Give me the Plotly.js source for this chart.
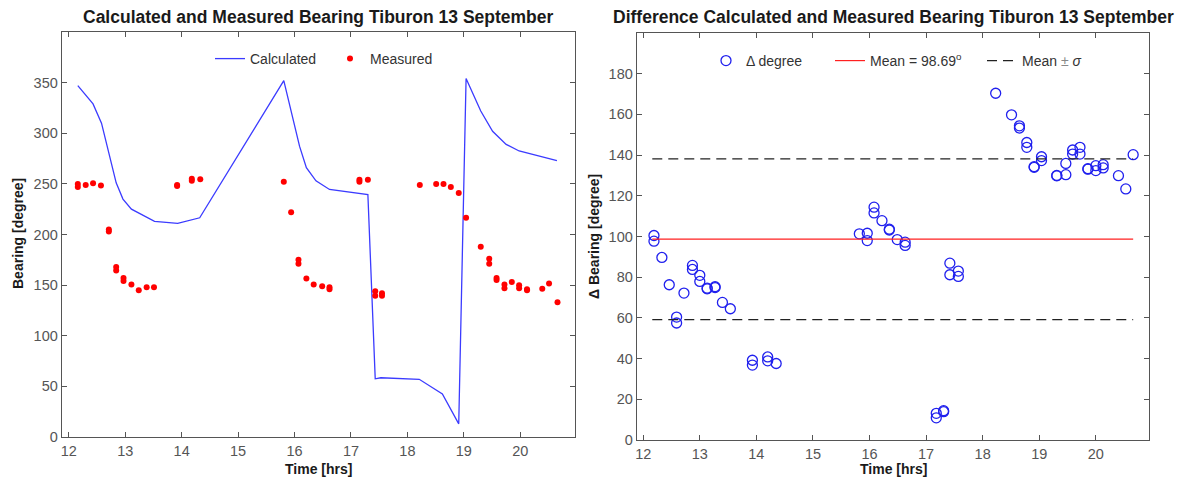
<!DOCTYPE html>
<html>
<head>
<meta charset="utf-8">
<script src="https://cdn.plot.ly/plotly-3.0.1.min.js"></script>
<style>
  html, body { margin: 0; padding: 0; background: #fff; }
  #chart { width: 1180px; height: 492px; }
</style>
</head>
<body>
<div id="chart"></div>
<script>
// Calculated bearing along the track [hrs, degree]
const calcTime = [12.16, 12.43, 12.58, 12.84, 12.96, 13.11, 13.52, 13.93, 14.32, 15.81,
                  16.09, 16.21, 16.38, 16.62, 17.30, 17.43, 17.53, 18.21, 18.62, 18.91,
                  19.04, 19.30, 19.51, 19.75, 19.98, 20.65];
const calcBearing = [347, 329, 310, 251, 235, 225, 213, 211, 216.5, 352,
                     287, 266, 253, 244.5, 239.5, 57.5, 58.5, 57, 42.5, 13,
                     354, 322, 302, 289, 282.5, 273];

// Measured bearing [hrs, degree]
const measTime = [12.16, 12.16, 12.30, 12.43, 12.57, 12.71, 12.71, 12.84, 12.84, 12.97,
                  12.97, 13.11, 13.24, 13.38, 13.51, 13.92, 13.92, 14.18, 14.18, 14.33,
                  15.81, 15.94, 16.07, 16.07, 16.21, 16.34, 16.49, 16.62, 16.62, 17.15,
                  17.15, 17.30, 17.43, 17.43, 17.55, 17.55, 18.22, 18.51, 18.64, 18.77,
                  18.91, 19.04, 19.30, 19.45, 19.45, 19.58, 19.58, 19.72, 19.72, 19.85,
                  19.98, 19.98, 20.12, 20.12, 20.39, 20.51, 20.66];
const measBearing = [250, 247, 249, 250.5, 248.5, 205, 203, 168, 164.5, 157,
                     154, 150.5, 145, 148, 148, 249, 248, 255, 253, 254.5,
                     252, 222, 175, 171, 156.5, 150.5, 149, 148, 146, 254,
                     252, 254, 144, 139.5, 142, 139.5, 249, 250, 250, 247,
                     241, 216.5, 188, 176, 171, 157, 155, 150.5, 147, 153,
                     150, 147, 146, 145, 146.5, 151.5, 133];

// Difference between calculated and measured bearing [hrs, degree]
const diffTime = [12.19, 12.19, 12.33, 12.46, 12.59, 12.59, 12.72, 12.87, 12.87, 13.00,
                  13.00, 13.13, 13.13, 13.27, 13.27, 13.40, 13.54, 13.93, 13.93, 14.20,
                  14.20, 14.35, 15.82, 15.96, 15.96, 16.08, 16.08, 16.22, 16.35, 16.35,
                  16.49, 16.63, 16.63, 17.18, 17.18, 17.31, 17.31, 17.42, 17.42, 17.57,
                  17.57, 18.23, 18.51, 18.65, 18.65, 18.78, 18.78, 18.91, 18.91, 19.04,
                  19.04, 19.31, 19.31, 19.47, 19.47, 19.59, 19.59, 19.72, 19.72, 19.86,
                  19.86, 20.00, 20.00, 20.13, 20.13, 20.40, 20.53, 20.66];
const diffDegree = [100.5, 97.7, 89.7, 76.3, 60.4, 57.5, 72.2, 85.8, 83.8, 80.9,
                    77.9, 74.6, 74.3, 75.3, 74.9, 67.6, 64.5, 39.2, 36.8, 40.8,
                    38.9, 37.6, 101.3, 101.6, 98.0, 114.4, 111.6, 107.8, 103.6, 103.2,
                    98.5, 97.2, 95.6, 13.1, 10.9, 14.4, 13.9, 86.9, 81.2, 83.0,
                    80.4, 170.4, 159.8, 154.4, 153.3, 146.2, 143.8, 134.3, 134.0, 139.2,
                    137.3, 130.0, 129.8, 135.9, 130.4, 142.5, 140.5, 143.8, 140.5, 133.3,
                    133.1, 134.8, 132.4, 135.3, 133.7, 129.9, 123.4, 140.2];

// Statistics of the difference
const meanDiff = 98.69;
const sigmaDiff = 39.5;
const statSpan = [12.16, 20.66];

const FONT = 'Liberation Sans, Arial, sans-serif';
const axisColor = '#555555';
const tickFont = {family: FONT, size: 14.5, color: '#555555'};
const boldFont = {family: FONT, size: 14, color: '#1a1a1a', weight: 'bold'};
const legendFont = {family: FONT, size: 14, color: '#333333'};

function axisStyle(extra) {
  return Object.assign({
    showline: true, mirror: 'ticks', linecolor: axisColor, linewidth: 1.3,
    ticks: 'inside', ticklen: 5, tickwidth: 1, tickcolor: axisColor,
    showgrid: false, zeroline: false, tickfont: tickFont, fixedrange: true
  }, extra);
}

// one single-entry legend per key, placed along the top of each panel
function legendBox(px, py) {
  return {orientation: 'h', x: px / 1180, y: (492 - py) / 492, xanchor: 'left', yanchor: 'middle',
          bgcolor: 'rgba(0,0,0,0)', borderwidth: 0, font: legendFont, itemwidth: 30};
}

const traces = [
  {x: calcTime, y: calcBearing, type: 'scatter', mode: 'lines', name: 'Calculated',
   line: {color: '#3b3bff', width: 1.3}, xaxis: 'x', yaxis: 'y', legend: 'legend'},
  {x: measTime, y: measBearing, type: 'scatter', mode: 'markers', name: 'Measured',
   marker: {color: '#ff0000', size: 6}, xaxis: 'x', yaxis: 'y', legend: 'legend2'},
  {x: diffTime, y: diffDegree, type: 'scatter', mode: 'markers', name: '\u0394 degree',
   marker: {symbol: 'circle-open', color: '#2020ee', size: 10, line: {width: 1.3}},
   xaxis: 'x2', yaxis: 'y2', legend: 'legend3'},
  {x: statSpan, y: statSpan.map(() => meanDiff), type: 'scatter', mode: 'lines',
   name: 'Mean = ' + meanDiff.toFixed(2) + '<sup>o</sup>',
   line: {color: '#ff2020', width: 1.2}, xaxis: 'x2', yaxis: 'y2', legend: 'legend4'},
  {x: statSpan, y: statSpan.map(() => meanDiff + sigmaDiff), type: 'scatter', mode: 'lines',
   name: 'Mean <span style="color:#888">\u00b1</span> <i>\u03c3</i>',
   line: {color: '#222222', width: 1.2, dash: '10px,6px'}, xaxis: 'x2', yaxis: 'y2', legend: 'legend5'},
  {x: statSpan, y: statSpan.map(() => meanDiff - sigmaDiff), type: 'scatter', mode: 'lines',
   name: 'Mean - sigma', showlegend: false,
   line: {color: '#222222', width: 1.2, dash: '10px,6px'}, xaxis: 'x2', yaxis: 'y2'}
];

const layout = {
  width: 1180, height: 492,
  margin: {l: 0, r: 0, t: 0, b: 0},
  paper_bgcolor: '#ffffff', plot_bgcolor: '#ffffff',
  showlegend: true,
  font: {family: FONT, color: '#222'},
  xaxis: axisStyle({domain: [62/1180, 575/1180], range: [11.88, 20.97], tickvals: [12,13,14,15,16,17,18,19,20], anchor: 'y'}),
  yaxis: axisStyle({domain: [55/492, 460/492], range: [0, 400], tickvals: [0,50,100,150,200,250,300,350], anchor: 'x'}),
  xaxis2: axisStyle({domain: [637/1180, 1149/1180], range: [11.89, 20.94], tickvals: [12,13,14,15,16,17,18,19,20], anchor: 'y2'}),
  yaxis2: axisStyle({domain: [52/492, 459/492], range: [0, 200], tickvals: [0,20,40,60,80,100,120,140,160,180], anchor: 'x2'}),
  legend: legendBox(210, 59),
  legend2: legendBox(330, 59),
  legend3: legendBox(706, 61),
  legend4: legendBox(830, 61),
  legend5: legendBox(982, 61),
  annotations: [
    {text: 'Calculated and Measured Bearing Tiburon 13 September', xref: 'paper', yref: 'paper',
     x: 318.5/1180, y: (492-17)/492, xanchor: 'center', yanchor: 'middle', showarrow: false,
     font: Object.assign({}, boldFont, {size: 17.5})},
    {text: 'Difference Calculated and Measured Bearing Tiburon 13 September', xref: 'paper', yref: 'paper',
     x: 893/1180, y: (492-17)/492, xanchor: 'center', yanchor: 'middle', showarrow: false,
     font: Object.assign({}, boldFont, {size: 17.5})},
    {text: 'Time [hrs]', xref: 'paper', yref: 'paper', x: 318.5/1180, y: (492-469)/492,
     xanchor: 'center', yanchor: 'middle', showarrow: false, font: boldFont},
    {text: 'Time [hrs]', xref: 'paper', yref: 'paper', x: 893/1180, y: (492-469)/492,
     xanchor: 'center', yanchor: 'middle', showarrow: false, font: boldFont},
    {text: 'Bearing [degree]', xref: 'paper', yref: 'paper', x: 18/1180, y: (492-234)/492,
     xanchor: 'center', yanchor: 'middle', showarrow: false, textangle: -90, font: boldFont},
    {text: '\u0394 Bearing [degree]', xref: 'paper', yref: 'paper', x: 594/1180, y: (492-236)/492,
     xanchor: 'center', yanchor: 'middle', showarrow: false, textangle: -90, font: boldFont}
  ]
};

Plotly.newPlot('chart', traces, layout, {staticPlot: true, displayModeBar: false});
</script>
</body>
</html>
